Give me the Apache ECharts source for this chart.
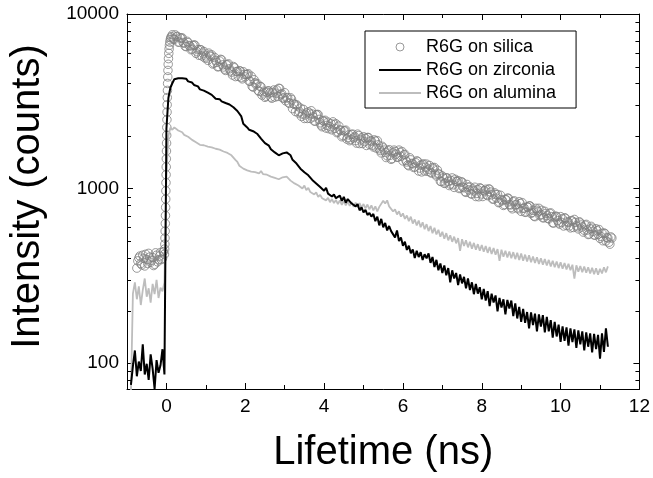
<!DOCTYPE html>
<html><head><meta charset="utf-8">
<script src="https://cdn.jsdelivr.net/npm/echarts@6/dist/echarts.min.js"></script>
<style>html,body{margin:0;padding:0;background:#fff}#c{width:653px;height:478px}</style>
</head><body><div id="c"></div>
<script>
// ---- tick values ----
const xTickLabels = [0, 2, 4, 6, 8, 10, 12];
const xMinorTicks = [1, 3, 5, 7, 9, 11];
const yTickLabels = [100, 1000, 10000];
const yMinorTicks = [80, 90, 200, 300, 400, 500, 600, 700, 800, 900, 2000, 3000, 4000, 5000, 6000, 7000, 8000, 9000];
const seriesNames = ['R6G on silica', 'R6G on zirconia', 'R6G on alumina'];

// ---- sampling (ns) ----
const dt = 0.05;
const lineT0 = -0.9;         // zirconia & alumina first channel
const silicaPreT0 = -0.75;   // silica baseline channels (set A)
const silicaPreT0B = -0.725; // silica baseline channels (set B, interleaved)
const silicaDecayT0 = 0.15;  // silica decay channels (set A)
const silicaDecayT0B = 0.175;// silica decay channels (set B, interleaved)

// ---- R6G on zirconia (counts), t = -0.9 ... 11.2 step 0.05 ----
const zirconia = [
  75, 96, 118, 84, 102, 90, 128, 86, 99, 80, 112, 93, 71, 104, 88, 97, 120, 86,
  2200, 3300, 3780, 4010, 4230, 4310, 4280, 4370, 4290, 4200, 4260, 4110, 4120, 4050, 3920, 3900, 3850, 3700, 3710, 3640, 3560,
  3540, 3450, 3440, 3410, 3270, 3300, 3250, 3160, 3200, 3090, 3150, 3030, 3060, 2920, 2940, 2780, 2720, 2590, 2350, 2290,
  2240, 2170, 2170, 2130, 2160, 2060, 2030, 1930, 1920, 1820, 1790, 1760, 1680, 1680, 1610, 1630, 1550, 1570, 1590, 1580,
  1610, 1570, 1550, 1460, 1460, 1390, 1380, 1300, 1310, 1240, 1240, 1190, 1190, 1120, 1140, 1070, 1080, 1020, 1030, 970,
  1010, 935, 960, 900, 925, 880, 900, 910, 850, 895, 830, 870, 860, 820, 835, 790, 815, 750, 780, 730,
  755, 705, 725, 690, 715, 650, 690, 615, 670, 600, 635, 575, 610, 570, 585, 525, 575, 500, 525, 470,
  495, 445, 470, 425, 448, 400, 440, 405, 432, 390, 420, 398, 425, 375, 405, 355, 390, 340, 372, 328,
  362, 318, 350, 290, 340, 305, 328, 280, 322, 286, 312, 268, 305, 262, 290, 248, 284, 250, 272, 232,
  266, 228, 258, 212, 250, 222, 244, 198, 236, 208, 232, 190, 230, 205, 228, 186, 220, 180, 210, 172,
  204, 170, 196, 158, 195, 165, 192, 152, 190, 162, 188, 150, 184, 152, 176, 140, 172, 142, 166, 132,
  162, 134, 160, 126, 158, 132, 156, 122, 154, 128, 152, 118, 150, 124, 148, 115, 147, 120, 145, 106, 148, 116, 158, 124
];

// ---- R6G on alumina (counts), t = -0.9 ... 11.2 step 0.05 ----
const alumina = [
  68, 250, 290, 232, 275, 215, 262, 305, 240, 268, 222, 284, 248, 300, 236, 270, 258, 290,
  1200, 2000, 2230, 2170, 2240, 2190, 2150, 2120, 2100, 2030, 2050, 1980, 1990, 1900, 1940, 1840, 1860, 1780, 1810, 1770, 1790,
  1740, 1770, 1720, 1750, 1690, 1720, 1670, 1690, 1630, 1660, 1600, 1610, 1550, 1540, 1460, 1420, 1350, 1340, 1300, 1310,
  1270, 1300, 1250, 1280, 1240, 1270, 1220, 1260, 1210, 1240, 1200, 1220, 1170, 1200, 1150, 1170, 1130, 1160, 1160, 1190,
  1170, 1170, 1110, 1120, 1070, 1090, 1040, 1060, 1000, 1040, 980, 1010, 955, 980, 925, 950, 895, 920, 880, 900,
  855, 885, 835, 870, 825, 860, 815, 855, 805, 850, 800, 840, 795, 835, 785, 830, 780, 825, 775, 815,
  770, 810, 760, 800, 750, 790, 740, 785, 770, 850, 820, 855, 790, 800, 740, 760, 710, 740, 690, 720,
  670, 700, 650, 690, 630, 665, 615, 655, 600, 640, 585, 625, 570, 610, 555, 595, 545, 580, 530, 565,
  515, 555, 505, 540, 495, 530, 485, 520, 440, 512, 468, 505, 460, 495, 452, 488, 446, 480, 440, 474,
  434, 468, 428, 462, 422, 456, 418, 450, 385, 446, 406, 440, 402, 436, 398, 432, 394, 428, 390, 424,
  386, 418, 382, 414, 378, 408, 374, 404, 370, 398, 366, 394, 362, 390, 358, 386, 354, 382, 350, 378,
  347, 374, 344, 370, 340, 366, 305, 363, 334, 360, 331, 357, 329, 354, 326, 351, 323, 349, 321, 347, 326, 354, 331, 358
];

// ---- R6G on silica (counts) ----
// baseline, set A: t = -0.75 ... -0.05 ; set B: t = -0.725 ... -0.075
const silicaPre = [350, 400, 372, 415, 360, 392, 425, 378, 402, 368, 415, 390, 430, 398, 420];
const silicaPreB = [385, 410, 365, 398, 420, 372, 405, 388, 362, 428, 380, 410, 392, 435];
// rising edge, explicit times (ns)
const silicaRiseT = [-0.045, -0.04, -0.036, -0.032, -0.028, -0.024, -0.02, -0.017, -0.014, -0.011, -0.008, -0.005, -0.002,
  0.001, 0.004, 0.007, 0.01, 0.013, 0.016, 0.019, 0.022, 0.026, 0.03, 0.034, 0.039, 0.045, 0.052, 0.06, 0.068, 0.077,
  0.087, 0.098, 0.11, 0.125];
const silicaRise = [450, 480, 520, 570, 630, 700, 780, 870, 970, 1080, 1200, 1330, 1480,
  1640, 1820, 2020, 2240, 2480, 2740, 3020, 3320, 3650, 4000, 4360, 4750, 5150, 5550, 5950, 6300, 6620,
  6900, 7130, 7300, 7420];
// decay, set A: t = 0.15 ... 11.3 step 0.05
const silicaDecay = [
  7600, 7150, 7400, 6900, 7300, 7300, 6800, 6500, 6850, 6550, 6300, 6650, 5950, 6250, 6250, 5750, 6100, 5750,
  5430, 5820, 5830, 5230, 5420, 4980, 5380, 5460, 4970, 4750, 5120, 4850, 4640, 5000, 4380, 4690, 4730, 4320, 4670, 4360,
  4500, 4120, 4400, 3810, 4030, 4000, 3600, 3830, 3530, 3330, 3560, 3620, 3340, 3550, 3340, 3670, 3750, 3450, 3300, 3540,
  3300, 3100, 3310, 2870, 3030, 3020, 2710, 2890, 2670, 2520, 2710, 2750, 2520, 2670, 2440, 2640, 2650, 2380, 2260, 2420,
  2220, 2400, 2260, 2170, 2330, 2350, 2110, 2170, 1980, 2140, 2160, 1960, 1880, 2040, 1950, 1880, 2050, 1810, 1950, 1980,
  1940, 1960, 1790, 1870, 1730, 1870, 1880, 1690, 1600, 1710, 1610, 1540, 1670, 1470, 1600, 1630, 1510, 1660, 1530, 1440,
  1570, 1420, 1350, 1460, 1385, 1330, 1440, 1260, 1360, 1370, 1260, 1380, 1290, 1240, 1320, 1320, 1180, 1210, 1100, 1180,
  1070, 1150, 1100, 1060, 1150, 1015, 1100, 1110, 1010, 1090, 1010, 950, 1020, 1020, 930, 970, 900, 985, 1010, 930,
  970, 990, 910, 990, 920, 870, 925, 925, 835, 865, 800, 865, 880, 810, 780, 840, 805, 775, 840, 740,
  770, 730, 785, 795, 720, 750, 690, 750, 770, 710, 680, 740, 700, 670, 725, 635, 685, 690, 635, 690,
  670, 680, 615, 640, 595, 650, 665, 612, 587, 635, 602, 577, 623, 545, 587, 593, 542, 588, 546, 518, 554, 556, 501, 520, 480, 520
];
// decay, set B (interleaved channels): t = 0.175 ... 11.275 step 0.05
const silicaDecayB = [
  7200, 7590, 7440, 6900, 7270, 6870, 6540, 6970, 6600, 6240, 6590, 6620, 6080, 5800, 6240, 5970, 5600,
  5590, 5970, 5710, 5170, 5630, 5280, 5000, 5500, 5110, 4830, 5110, 5180, 4720, 4470, 4920, 4680, 4390, 4710, 4250, 4510,
  4500, 4550, 4120, 3850, 4200, 3940, 3650, 3850, 3430, 3610, 3380, 3630, 3530, 3290, 3670, 3520, 3370, 3740, 3495, 3300,
  3180, 3320, 3070, 3240, 3070, 2760, 2970, 2760, 2590, 2840, 2640, 2520, 2700, 2790, 2570, 2430, 2660, 2490, 2310, 2450,
  2460, 2300, 2200, 2350, 2410, 2210, 2090, 2280, 2150, 2010, 2140, 1920, 2030, 1910, 2050, 1980, 1820, 2010, 1900, 1810,
  1855, 1765, 1960, 1875, 1770, 1900, 1705, 1780, 1650, 1745, 1660, 1505, 1645, 1550, 1485, 1660, 1573, 1515, 1610, 1630,
  1560, 1450, 1365, 1500, 1393, 1320, 1405, 1430, 1310, 1245, 1385, 1325, 1255, 1355, 1225, 1295, 1210, 1275, 1210, 1095,
  1150, 1075, 1150, 1040, 1110, 1050, 1130, 1095, 1000, 1090, 1020, 960, 1055, 982, 933, 993, 1017, 937, 897, 1000,
  900, 970, 920, 995, 955, 870, 945, 880, 830, 915, 852, 810, 860, 880, 805, 765, 850, 810, 765, 820,
  830, 774, 735, 780, 795, 730, 695, 770, 735, 700, 750, 680, 720, 675, 720, 690, 635, 695, 655, 625,
  640, 610, 675, 645, 610, 655, 598, 640, 603, 645, 618, 563, 616, 578, 549, 607, 568, 540, 573, 582, 531, 502, 552, 524, 492, 528
];

// ---- build data pairs ----
function pairsOnGrid(t0, values) {
  return values.map((v, i) => [+(t0 + i * dt).toFixed(4), v]);
}
const zirconiaData = pairsOnGrid(lineT0, zirconia);
const aluminaData = pairsOnGrid(lineT0, alumina);
const silicaData = pairsOnGrid(silicaPreT0, silicaPre)
  .concat(pairsOnGrid(silicaPreT0B, silicaPreB))
  .concat(silicaRiseT.map((t, i) => [t, silicaRise[i]]))
  .concat(pairsOnGrid(silicaDecayT0, silicaDecay))
  .concat(pairsOnGrid(silicaDecayT0B, silicaDecayB));

const FONT = '"Liberation Sans", Arial, Helvetica, sans-serif';
const BLACK = '#000';
const GREY_ALUMINA = '#bdbdbd';
const GREY_SILICA = '#808080';
const X_MIN = -1, X_MAX = 12, Y_MIN = 71, Y_MAX = 10000;
const LINE_ICON = 'path://M0,0h42v2h-42z';

function xAxisDef(position, ticks, len, withLine, withLabel) {
  const a = {
    type: 'value', position: position, min: X_MIN, max: X_MAX,
    axisLine: { show: withLine, onZero: false, lineStyle: { color: BLACK, width: 1 } },
    axisTick: { show: true, inside: true, length: len, customValues: ticks, lineStyle: { color: BLACK, width: 1 } },
    axisLabel: { show: withLabel, customValues: ticks, fontSize: 19, color: BLACK, fontFamily: FONT, margin: 8 },
    splitLine: { show: false }
  };
  if (withLabel) {
    a.name = 'Lifetime (ns)';
    a.nameLocation = 'middle';
    a.nameGap = 44;
    a.nameTextStyle = { fontSize: 40, color: BLACK, fontFamily: FONT };
  }
  return a;
}

function yAxisDef(position, withLabel) {
  const a = {
    type: 'log', logBase: 10, position: position, min: Y_MIN, max: Y_MAX,
    axisLine: { show: true, onZero: false, lineStyle: { color: BLACK, width: 1 } },
    axisTick: { show: true, inside: true, length: 6, lineStyle: { color: BLACK, width: 1 } },
    axisLabel: {
      show: withLabel, fontSize: 19, color: BLACK, fontFamily: FONT, margin: 8,
      formatter: function (v) {
        const hit = yTickLabels.find(t => Math.abs(t - v) < t * 1e-6);
        return hit === undefined ? '' : String(hit);
      }
    },
    splitLine: { show: false },
    minorTick: { show: false }
  };
  if (withLabel) {
    a.name = 'Intensity (counts)';
    a.nameLocation = 'middle';
    a.nameGap = 79;
    a.nameTextStyle = { fontSize: 40, color: BLACK, fontFamily: FONT, padding: [0, 0, 0, 10] };
  }
  return a;
}

const chart = echarts.init(document.getElementById('c'), null, { renderer: 'canvas' });
chart.setOption({
  animation: false,
  backgroundColor: '#fff',
  grid: { left: 123, top: 14, width: 519, height: 380, containLabel: false },
  legend: {
    orient: 'vertical', left: 365, top: 31,
    padding: [7, 20, 6, 14], itemGap: 5, itemWidth: 42, itemHeight: 8,
    borderColor: BLACK, borderWidth: 1, backgroundColor: '#fff',
    symbolKeepAspect: true,
    textStyle: { fontSize: 18, color: BLACK, fontFamily: FONT },
    data: [
      { name: seriesNames[0], icon: 'circle', itemStyle: { color: 'rgba(255,255,255,0)', borderColor: GREY_SILICA, borderWidth: 1 } },
      { name: seriesNames[1], icon: LINE_ICON, itemStyle: { color: BLACK, borderWidth: 0 } },
      { name: seriesNames[2], icon: LINE_ICON, itemStyle: { color: GREY_ALUMINA, borderWidth: 0 } }
    ]
  },
  xAxis: [
    xAxisDef('bottom', xTickLabels, 6, true, true),
    xAxisDef('bottom', xMinorTicks, 4, false, false),
    xAxisDef('top', xTickLabels, 6, true, false),
    xAxisDef('top', xMinorTicks, 4, false, false)
  ],
  yAxis: [
    yAxisDef('left', true),
    yAxisDef('right', false)
  ],
  series: [
    {
      name: seriesNames[0], type: 'scatter', data: silicaData,
      symbol: 'circle', symbolSize: 8.5,
      itemStyle: { color: 'rgba(255,255,255,0)', borderColor: GREY_SILICA, borderWidth: 1 },
      emphasis: { disabled: true }, z: 2
    },
    {
      name: seriesNames[2], type: 'line', data: aluminaData, symbol: 'none',
      lineStyle: { color: GREY_ALUMINA, width: 1.8 }, itemStyle: { color: GREY_ALUMINA },
      emphasis: { disabled: true }, z: 3
    },
    {
      name: seriesNames[1], type: 'line', data: zirconiaData, symbol: 'none',
      lineStyle: { color: BLACK, width: 2 }, itemStyle: { color: BLACK },
      emphasis: { disabled: true }, z: 4
    },
    {
      type: 'custom', silent: true, clip: false, z: 10,
      data: yMinorTicks.map(v => [X_MIN, v]),
      renderItem: function (params, api) {
        const v = api.value(1);
        const a = api.coord([X_MIN, v]);
        const b = api.coord([X_MAX, v]);
        const y = Math.round(a[1]) + 0.5;
        return {
          type: 'group', children: [
            { type: 'line', shape: { x1: a[0], y1: y, x2: a[0] + 4, y2: y }, style: { stroke: BLACK, lineWidth: 1 } },
            { type: 'line', shape: { x1: b[0], y1: y, x2: b[0] - 4, y2: y }, style: { stroke: BLACK, lineWidth: 1 } }
          ]
        };
      }
    }
  ]
});
</script>
</body></html>
